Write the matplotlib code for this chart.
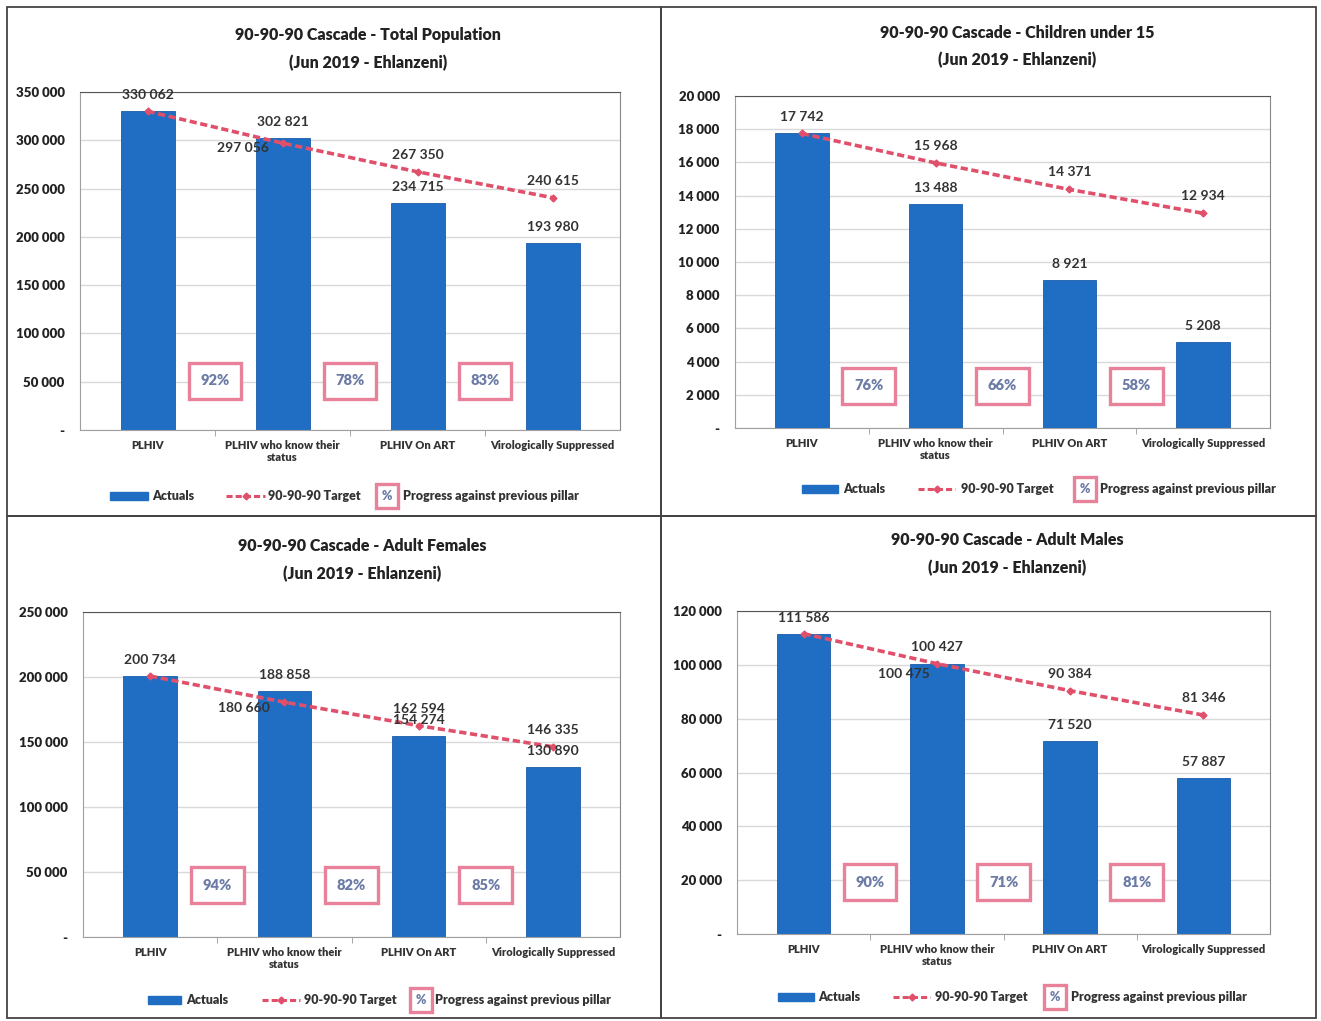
import matplotlib.pyplot as plt
from matplotlib.patches import Rectangle
from matplotlib.lines import Line2D
from matplotlib.ticker import FuncFormatter, MultipleLocator

plt.rcParams['font.family'] = ['Lato', 'DejaVu Sans']

W, H = 1321, 1021

pillars = ['PLHIV', 'PLHIV who know their\nstatus', 'PLHIV On ART', 'Virologically Suppressed']
subtitle = '(Jun 2019 - Ehlanzeni)'

total_actual = [330062, 302821, 234715, 193980]
total_target = [330062, 297056, 267350, 240615]
children_actual = [17742, 13488, 8921, 5208]
children_target = [17742, 15968, 14371, 12934]
females_actual = [200734, 188858, 154274, 130890]
females_target = [200734, 180660, 162594, 146335]
males_actual = [111586, 100475, 71520, 57887]
males_target = [111586, 100427, 90384, 81346]

titles = ['90-90-90 Cascade - Total Population',
          '90-90-90 Cascade - Children under 15',
          '90-90-90 Cascade - Adult Females',
          '90-90-90 Cascade - Adult Males']
y_max = [350000, 20000, 250000, 120000]
y_step = [50000, 2000, 50000, 20000]

BLUE = '#1F6EC4'
RED = '#E0506B'
PINK = '#E8829A'
PCT_TXT = '#6B7BA6'
HEAVY = 'heavy'

# pixel layout of each panel
layout = [
    dict(frame=(7, 7, 661, 516), ax=(80, 92, 620, 430), tx=368, ty=(35, 63),
         ly=496, lx=(110, 148, 152, 226, 265, 268, 387, 403), pct=0.145,
         t_off={1: (-40, -5)}, a_off={}),
    dict(frame=(661, 7, 1316, 516), ax=(735, 96, 1270, 428), tx=1017, ty=(33, 60),
         ly=489, lx=(802, 838, 843, 918, 955, 961, 1085, 1100), pct=0.127,
         t_off={}, a_off={}),
    dict(frame=(7, 516, 661, 1018), ax=(83, 612, 620, 937), tx=362, ty=(546, 574),
         ly=1000, lx=(148, 181, 186, 262, 300, 304, 421, 435), pct=0.16,
         t_off={1: (-40, -6)}, a_off={}),
    dict(frame=(661, 516, 1316, 1018), ax=(737, 611, 1270, 934), tx=1007, ty=(540, 568),
         ly=997, lx=(778, 814, 818, 893, 930, 935, 1055, 1071), pct=0.16,
         t_off={}, a_off={1: (-33, -10)}),
]

series = [(total_actual, total_target), (children_actual, children_target),
          (females_actual, females_target), (males_actual, males_target)]


def fx(px):
    return px / W


def fy(py):
    return 1 - py / H


def fmt(v):
    return '-' if v == 0 else f'{int(v):,}'.replace(',', ' ')


fig = plt.figure(figsize=(W / 100, H / 100), dpi=100)
fig.patch.set_facecolor('white')

for k, (actual, target) in enumerate(series):
    L = layout[k]
    x0, y0, x1, y1 = L['frame']
    fig.add_artist(Rectangle((fx(x0), fy(y1)), fx(x1 - x0), (y1 - y0) / H,
                             transform=fig.transFigure, fill=False, ec='#444', lw=1.3))

    l, t, r, b = L['ax']
    ax = fig.add_axes([fx(l), fy(b), fx(r - l), (b - t) / H])
    x = range(len(pillars))
    ax.bar(x, actual, width=0.4, color=BLUE, edgecolor='#1A5DAA', lw=0.6, zorder=2)
    ax.plot(x, target, color=RED, lw=2.6, ls=(0, (2.0, 1.0)), marker='D', ms=3.5,
            zorder=3)

    ax.set_xlim(-0.5, 3.5)
    ax.set_ylim(0, y_max[k])
    ax.yaxis.set_major_locator(MultipleLocator(y_step[k]))
    ax.yaxis.set_major_formatter(FuncFormatter(lambda v, p: fmt(v)))
    ax.grid(axis='y', color='#D9D9D9', lw=1, zorder=0)
    ax.set_axisbelow(True)
    for s in ax.spines.values():
        s.set_color('#A0A0A0')
    ax.spines['top'].set_color('#555')
    ax.spines['right'].set_color('#888')
    ax.set_xticks(list(x))
    ax.set_xticklabels(pillars, fontsize=8, fontweight=HEAVY, color='#333',
                       linespacing=1.1)
    ax.set_xticks([0.5, 1.5, 2.5], minor=True)
    ax.tick_params(axis='x', which='major', length=0, pad=7)
    ax.tick_params(axis='x', which='minor', length=4, color='#999')
    ax.tick_params(axis='y', length=0, labelsize=9.5, labelcolor='#222', pad=11)
    for lab in ax.get_yticklabels():
        lab.set_fontweight(HEAVY)

    # value labels above bars and above target markers
    for i, v in enumerate(actual):
        dx, dy = L['a_off'].get(i, (0, 16))
        ax.annotate(fmt(v), (i, v), xytext=(dx, dy), textcoords='offset pixels',
                    ha='center', va='center', fontsize=10, fontweight='bold',
                    color='#333', zorder=5)
    for i, v in enumerate(target):
        if i == 0:
            continue
        dx, dy = L['t_off'].get(i, (0, 17))
        ax.annotate(fmt(v), (i, v), xytext=(dx, dy), textcoords='offset pixels',
                    ha='center', va='center', fontsize=10, fontweight='bold',
                    color='#333', zorder=5)

    # progress against previous pillar
    for i in range(len(actual) - 1):
        pct = round(100 * actual[i + 1] / actual[i])
        ax.text(i + 0.5, L['pct'], f'{pct}%', transform=ax.get_xaxis_transform(),
                ha='center', va='center', fontsize=10.5, fontweight=HEAVY,
                color=PCT_TXT, zorder=6,
                bbox=dict(boxstyle='square,pad=0.8', fc='white', ec=PINK, lw=2.4))

    fig.text(fx(L['tx']), fy(L['ty'][0]), titles[k], ha='center', va='center',
             fontsize=11.5, fontweight=HEAVY, color='#222')
    fig.text(fx(L['tx']), fy(L['ty'][1]), subtitle, ha='center', va='center',
             fontsize=11.5, fontweight=HEAVY, color='#222')

    # legend
    ly = L['ly']
    r0, r1, at, l0, l1, tt, bx, pt = L['lx']
    fig.add_artist(Rectangle((fx(r0), fy(ly + 4)), fx(r1 - r0), 8 / H,
                             transform=fig.transFigure, color=BLUE))
    fig.text(fx(at), fy(ly), 'Actuals', ha='left', va='center', fontsize=9,
             fontweight=HEAVY, color='#333')
    fig.add_artist(Line2D([fx(l0), fx(l1)], [fy(ly), fy(ly)], transform=fig.transFigure,
                          color=RED, lw=2.2, ls=(0, (2.0, 1.0))))
    fig.add_artist(Line2D([fx((l0 + l1) / 2)], [fy(ly)], transform=fig.transFigure,
                          color=RED, marker='D', ms=3.5, ls='none'))
    fig.text(fx(tt), fy(ly), '90-90-90 Target', ha='left', va='center', fontsize=9,
             fontweight=HEAVY, color='#333')
    fig.text(fx(bx), fy(ly), '%', ha='center', va='center', fontsize=9,
             fontweight=HEAVY, color=PCT_TXT,
             bbox=dict(boxstyle='square,pad=0.5', fc='white', ec=PINK, lw=2.4))
    fig.text(fx(pt), fy(ly), 'Progress against previous pillar', ha='left',
             va='center', fontsize=9, fontweight=HEAVY, color='#333')

fig.savefig('out.png', dpi=100, facecolor='white')
